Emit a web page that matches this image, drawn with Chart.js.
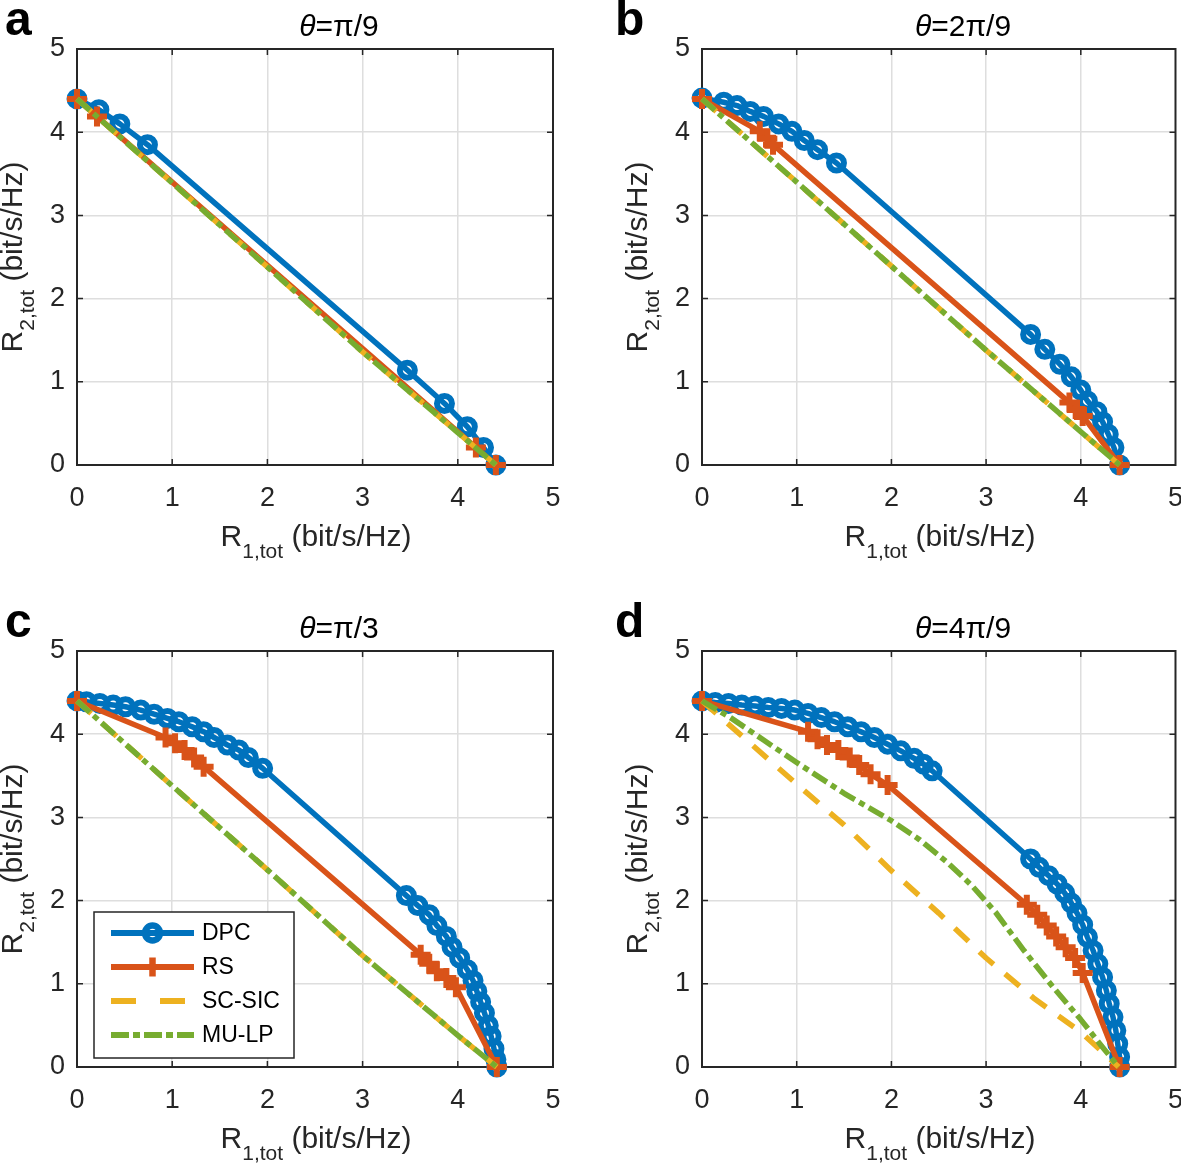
<!DOCTYPE html>
<html>
<head>
<meta charset="utf-8">
<script src="https://cdn.jsdelivr.net/npm/chart.js@4.4.1/dist/chart.umd.min.js"></script>
<style>
  html, body { margin: 0; padding: 0; background: #fff; overflow: hidden; width: 1181px; height: 1168px; }
  #page { position: relative; width: 1181px; height: 1168px; overflow: hidden; font-family: 'Liberation Sans', Arial, sans-serif; }
  canvas { position: absolute; }
  .axt { position: absolute; white-space: nowrap; font-size: 30px; line-height: 30px; color: #262626; }
  .axt sub { font-size: 21px; vertical-align: baseline; position: relative; top: 12px; }
  .ttl { position: absolute; white-space: nowrap; font-size: 30px; line-height: 30px; color: #000; transform: translateX(-50%); }
  .letter { position: absolute; font-size: 48px; line-height: 48px; font-weight: bold; color: #000; }
</style>
</head>
<body>
<div id="page"></div>
<script>
// ---- data ----
const tickValues = [0, 1, 2, 3, 4, 5];
const seriesNames = ["DPC", "RS", "SC-SIC", "MU-LP"];
const panelLetters = ["a", "b", "c", "d"];
const thetaLabels = ["π/9", "2π/9", "π/3", "4π/9"];

// panel a : theta = pi/9
const dpcA_x = [0, 0.23, 0.45, 0.74, 3.47, 3.86, 4.10, 4.27, 4.40];
const dpcA_y = [4.40, 4.27, 4.10, 3.85, 1.14, 0.74, 0.46, 0.21, 0];
const rsA_x = [0, 0.21, 4.19, 4.40];
const rsA_y = [4.40, 4.19, 0.21, 0];
const scA_x = [0, 1, 2, 3, 4, 4.40];
const scA_y = [4.40, 3.39, 2.38, 1.36, 0.39, 0];
const muA_x = [0, 1, 2, 3, 4, 4.40];
const muA_y = [4.40, 3.39, 2.38, 1.36, 0.39, 0];

// panel b : theta = 2pi/9
const dpcB_x = [0, 0.23, 0.37, 0.51, 0.65, 0.81, 0.95, 1.08, 1.22, 1.42, 3.47, 3.62, 3.78, 3.90, 4.00, 4.07, 4.17, 4.23, 4.29, 4.35, 4.41];
const dpcB_y = [4.41, 4.36, 4.32, 4.25, 4.19, 4.10, 4.01, 3.90, 3.79, 3.63, 1.57, 1.39, 1.21, 1.06, 0.90, 0.77, 0.64, 0.52, 0.37, 0.21, 0];
const rsB_x = [0, 0.61, 0.69, 0.75, 3.88, 3.96, 4.02, 4.41];
const rsB_y = [4.40, 4.01, 3.92, 3.85, 0.75, 0.66, 0.59, 0];
const scB_x = [0, 1, 2, 3, 4, 4.41];
const scB_y = [4.40, 3.40, 2.39, 1.38, 0.40, 0];
const muB_x = [0, 1, 2, 3, 4, 4.41];
const muB_y = [4.40, 3.40, 2.39, 1.38, 0.40, 0];

// panel c : theta = pi/3
const dpcC_x = [0, 0.10, 0.24, 0.38, 0.51, 0.67, 0.81, 0.95, 1.07, 1.21, 1.33, 1.44, 1.58, 1.70, 1.80, 1.95,
                3.46, 3.58, 3.70, 3.78, 3.88, 3.94, 4.02, 4.10, 4.16, 4.20, 4.24, 4.28, 4.32, 4.35, 4.38, 4.40, 4.41];
const dpcC_y = [4.40, 4.39, 4.37, 4.35, 4.33, 4.29, 4.24, 4.19, 4.15, 4.09, 4.03, 3.96, 3.87, 3.81, 3.72, 3.59,
                2.06, 1.94, 1.83, 1.70, 1.57, 1.44, 1.31, 1.17, 1.04, 0.91, 0.78, 0.65, 0.50, 0.37, 0.22, 0.09, 0];
const rsC_x = [0, 0.93, 1.03, 1.13, 1.23, 1.33, 3.61, 3.70, 3.78, 3.88, 3.98, 4.41];
const rsC_y = [4.40, 3.96, 3.89, 3.81, 3.72, 3.61, 1.35, 1.24, 1.15, 1.07, 0.96, 0];
const scC_x = [0, 1, 2, 3, 4, 4.41];
const scC_y = [4.40, 3.38, 2.37, 1.34, 0.38, 0];
const muC_x = [0, 1, 2, 3, 4, 4.41];
const muC_y = [4.40, 3.38, 2.37, 1.34, 0.38, 0];

// panel d : theta = 4pi/9
const dpcD_x = [0, 0.14, 0.28, 0.42, 0.56, 0.70, 0.84, 0.98, 1.12, 1.26, 1.40, 1.54, 1.68, 1.82, 1.96, 2.10, 2.24, 2.34, 2.43,
                3.47, 3.56, 3.66, 3.75, 3.83, 3.90, 3.96, 4.02, 4.07, 4.13, 4.18, 4.23, 4.27, 4.30, 4.34, 4.37, 4.39, 4.41, 4.41];
const dpcD_y = [4.40, 4.38, 4.37, 4.35, 4.34, 4.32, 4.31, 4.29, 4.25, 4.20, 4.15, 4.09, 4.03, 3.96, 3.88, 3.80, 3.71, 3.64, 3.56,
                2.50, 2.40, 2.30, 2.20, 2.09, 1.97, 1.85, 1.71, 1.56, 1.40, 1.24, 1.08, 0.92, 0.76, 0.60, 0.44, 0.28, 0.12, 0];
const rsD_x = [0, 1.12, 1.22, 1.32, 1.44, 1.56, 1.66, 1.78, 1.96, 3.43, 3.54, 3.64, 3.74, 3.84, 3.94, 4.02, 4.41];
const rsD_y = [4.40, 4.03, 3.94, 3.87, 3.81, 3.72, 3.63, 3.52, 3.39, 1.95, 1.83, 1.70, 1.57, 1.44, 1.31, 1.13, 0];
const scD_x = [0, 0.5, 1, 1.5, 2, 2.5, 3, 3.5, 4, 4.40];
const scD_y = [4.40, 3.90, 3.40, 2.91, 2.36, 1.85, 1.31, 0.83, 0.42, 0];
const muD_x = [0, 0.3, 0.65, 1.0, 1.5, 2.0, 2.3, 2.6, 2.85, 3.1, 3.4, 3.7, 4.0, 4.2, 4.40];
const muD_y = [4.40, 4.20, 3.93, 3.66, 3.29, 2.96, 2.73, 2.45, 2.18, 1.86, 1.40, 0.97, 0.57, 0.28, 0];

const panelData = [
  [[dpcA_x, dpcA_y], [rsA_x, rsA_y], [scA_x, scA_y], [muA_x, muA_y]],
  [[dpcB_x, dpcB_y], [rsB_x, rsB_y], [scB_x, scB_y], [muB_x, muB_y]],
  [[dpcC_x, dpcC_y], [rsC_x, rsC_y], [scC_x, scC_y], [muC_x, muC_y]],
  [[dpcD_x, dpcD_y], [rsD_x, rsD_y], [scD_x, scD_y], [muD_x, muD_y]]
];

// ---- look ----
const colors = ["#0072BD", "#D95319", "#EDB120", "#77AC30"];
const dashes = [[], [], [19, 15], [17, 5, 6, 5]];
const fontFamily = "'Liberation Sans', Arial, sans-serif";
const axisColor = "#262626";

// plot box edges on the page, by column / row
const plotLeft = [77, 702], plotRight = [553, 1176];
const plotTop = [49, 651], plotBottom = [465, 1067];
const canvasX = [0, 600], canvasW = 600;
const canvasY = [0, 600], canvasH = [600, 568];

function toPoints(xs, ys) {
  return xs.map((x, i) => ({ x: x, y: ys[i] }));
}

const boxPlugin = {
  id: "matlabBox",
  beforeDatasetsDraw(chart) {
    const { ctx, chartArea: a, scales } = chart;
    ctx.save();
    ctx.strokeStyle = axisColor;
    ctx.lineWidth = 1.5;
    ctx.beginPath();
    [1, 2, 3, 4].forEach(v => {
      const px = scales.x.getPixelForValue(v);
      const py = scales.y.getPixelForValue(v);
      ctx.moveTo(px, a.bottom); ctx.lineTo(px, a.bottom - 6);
      ctx.moveTo(px, a.top); ctx.lineTo(px, a.top + 6);
      ctx.moveTo(a.left, py); ctx.lineTo(a.left + 6, py);
      ctx.moveTo(a.right, py); ctx.lineTo(a.right - 6, py);
    });
    ctx.stroke();
    ctx.lineWidth = 2;
    ctx.strokeRect(a.left, a.top, a.right - a.left, a.bottom - a.top);
    ctx.restore();
  }
};

const legendPlugin = {
  id: "boxLegend",
  afterDraw(chart) {
    const { ctx, chartArea: a } = chart;
    const bw = 200, bh = 146;
    const bx = a.left + 17, by = a.bottom - 9 - bh;
    ctx.save();
    ctx.fillStyle = "#fff";
    ctx.fillRect(bx, by, bw, bh);
    ctx.strokeStyle = axisColor;
    ctx.lineWidth = 1.5;
    ctx.strokeRect(bx, by, bw, bh);
    seriesNames.forEach((name, k) => {
      const yy = by + 21 + k * 34;
      ctx.strokeStyle = colors[k];
      ctx.lineWidth = 6;
      ctx.lineCap = "butt";
      ctx.setLineDash(k === 2 ? [25, 24] : k === 3 ? [18, 4, 7, 4] : []);
      ctx.beginPath();
      ctx.moveTo(bx + 17, yy);
      ctx.lineTo(bx + 100, yy);
      ctx.stroke();
      ctx.setLineDash([]);
      const mx = bx + 58.5;
      if (k === 0) {
        ctx.lineWidth = 6.5;
        ctx.beginPath();
        ctx.arc(mx, yy, 7.5, 0, Math.PI * 2);
        ctx.stroke();
      } else if (k === 1) {
        ctx.lineWidth = 6.5;
        ctx.beginPath();
        ctx.moveTo(mx, yy - 9.5); ctx.lineTo(mx, yy + 9.5);
        ctx.stroke();
      }
      ctx.fillStyle = "#000";
      ctx.font = "23px " + fontFamily;
      ctx.textBaseline = "middle";
      ctx.fillText(name, bx + 108, yy + 1);
    });
    ctx.restore();
  }
};

const page = document.getElementById("page");

panelData.forEach((series, i) => {
  const col = i % 2, row = Math.floor(i / 2);
  const left = plotLeft[col], right = plotRight[col];
  const top = plotTop[row], bottom = plotBottom[row];
  const cx = canvasX[col], cy = canvasY[row], ch = canvasH[row];

  const cv = document.createElement("canvas");
  cv.width = canvasW; cv.height = ch;
  cv.style.left = cx + "px"; cv.style.top = cy + "px";
  cv.style.width = canvasW + "px"; cv.style.height = ch + "px";
  page.appendChild(cv);

  // panel letter, title, axis titles
  const letter = document.createElement("div");
  letter.className = "letter";
  letter.textContent = panelLetters[i];
  letter.style.left = (col === 0 ? 5 : 615) + "px";
  letter.style.top = (top - 13 - 40.6) + "px";
  page.appendChild(letter);

  const ttl = document.createElement("div");
  ttl.className = "ttl";
  ttl.innerHTML = "<i>θ</i>=" + thetaLabels[i];
  ttl.style.left = ((left + right) / 2 + 24) + "px";
  ttl.style.top = (top - 13 - 25.4) + "px";
  page.appendChild(ttl);

  const xt = document.createElement("div");
  xt.className = "axt";
  xt.innerHTML = "R<sub>1,tot</sub> (bit/s/Hz)";
  xt.style.left = ((left + right) / 2 + 1) + "px";
  xt.style.top = (bottom + 81.7 - 25.4) + "px";
  xt.style.transform = "translateX(-50%)";
  page.appendChild(xt);

  const yt = document.createElement("div");
  yt.className = "axt";
  yt.innerHTML = "R<sub>2,tot</sub> (bit/s/Hz)";
  yt.style.left = (left - 64) + "px";
  yt.style.top = ((top + bottom) / 2) + "px";
  yt.style.transform = "translate(-50%, -50%) rotate(-90deg)";
  page.appendChild(yt);

  const datasets = series.map((s, k) => ({
    label: seriesNames[k],
    data: toPoints(s[0], s[1]),
    showLine: true,
    borderColor: colors[k],
    borderWidth: 5.5,
    borderDash: dashes[k],
    borderCapStyle: "butt",
    borderJoinStyle: "round",
    pointStyle: k === 0 ? "circle" : "cross",
    pointRadius: k === 0 ? 7.5 : (k === 1 ? 10 : 0),
    pointBorderWidth: k === 0 ? 6 : 6,
    pointBorderColor: colors[k],
    pointBackgroundColor: "rgba(0,0,0,0)",
    pointHoverRadius: 0,
    order: 4 - k,
    clip: false
  }));

  const tickFont = { family: fontFamily, size: 27 };
  const gridOpts = {
    color: c => (c.tick && (c.tick.value === 0 || c.tick.value === 5)) ? "rgba(0,0,0,0)" : "#dedede",
    lineWidth: 1.5,
    drawTicks: false
  };

  new Chart(cv, {
    type: "scatter",
    data: { datasets: datasets },
    options: {
      responsive: false,
      animation: false,
      devicePixelRatio: 1,
      layout: { padding: { left: 0, top: top - cy, right: cx + canvasW - right, bottom: 0 } },
      plugins: { legend: { display: false }, tooltip: { enabled: false }, title: { display: false } },
      scales: {
        x: {
          type: "linear", min: 0, max: 5,
          afterBuildTicks: s => { s.ticks = tickValues.map(v => ({ value: v })); },
          afterFit: s => { s.height = cy + ch - bottom; },
          ticks: { font: tickFont, color: axisColor, padding: 17, maxRotation: 0, autoSkip: false },
          grid: gridOpts,
          border: { display: false }
        },
        y: {
          type: "linear", min: 0, max: 5,
          afterBuildTicks: s => { s.ticks = tickValues.map(v => ({ value: v })); },
          afterFit: s => { s.width = left - cx; },
          ticks: { font: tickFont, color: axisColor, padding: 12, autoSkip: false },
          grid: gridOpts,
          border: { display: false }
        }
      }
    },
    plugins: i === 2 ? [boxPlugin, legendPlugin] : [boxPlugin]
  });
});
</script>
</body>
</html>
